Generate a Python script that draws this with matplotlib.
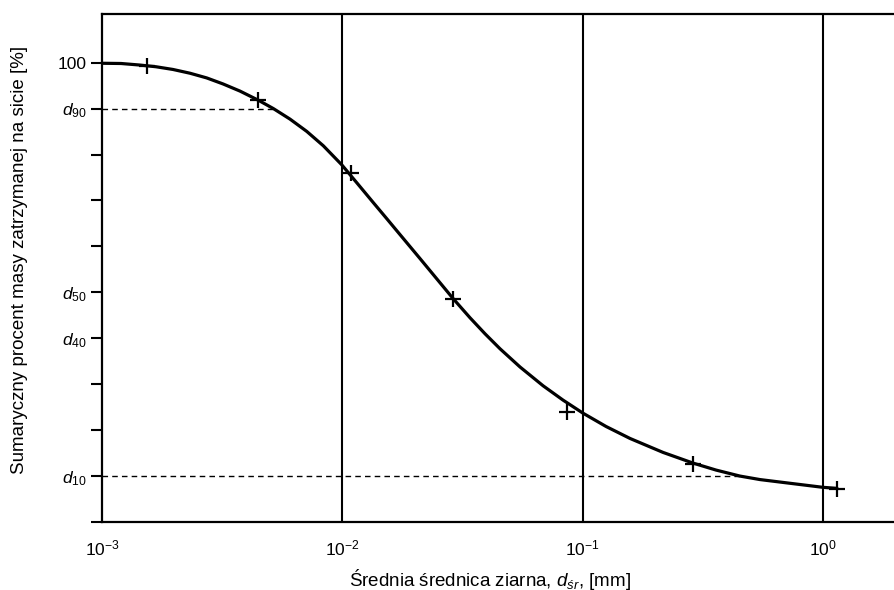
import matplotlib
matplotlib.use("Agg")
import matplotlib.pyplot as plt

plt.rcParams['font.family'] = ['Liberation Sans', 'DejaVu Sans']
plt.rcParams['mathtext.fontset'] = 'custom'
plt.rcParams['mathtext.rm'] = 'Liberation Sans'
plt.rcParams['mathtext.it'] = 'Liberation Sans:italic'

# measured points (sieve results)
point_x = [0.001545, 0.00447, 0.01089, 0.02877, 0.0859, 0.289, 1.148]
point_y = [99.3, 91.9, 75.9, 48.6, 24.0, 12.6, 7.2]

# smoothed grading curve
curve_x = [0.001, 0.0012, 0.001439, 0.001678, 0.001974, 0.002324, 0.002727,
           0.003188, 0.003752, 0.00447, 0.005163, 0.006058, 0.00711, 0.008337,
           0.009943, 0.01148, 0.01346, 0.01535, 0.01705, 0.02105, 0.02888,
           0.034, 0.03925, 0.04531, 0.05489, 0.06843, 0.08288, 0.10038,
           0.12515, 0.15749, 0.21615, 0.28798, 0.359, 0.45185, 0.5473, 0.66326,
           1.001, 1.1446]
curve_y = [99.87, 99.82, 99.48, 99.11, 98.52, 97.7, 96.68,
           95.37, 93.81, 91.83, 90.01, 87.71, 85.04, 81.9,
           77.77, 73.87, 69.52, 65.96, 63.09, 57.35, 48.66,
           44.45, 40.97, 37.71, 33.74, 29.66, 26.53, 23.68,
           20.79, 18.18, 15.14, 12.82, 11.3, 9.99, 9.23, 8.69,
           7.54, 7.32]

# characteristic diameters marked with dashed lines
d90 = 0.00515
d10 = 0.452

y_ticks = [0, 10, 20, 30, 40, 50, 60, 70, 80, 90, 100]
y_labels = ['', '$d_{10}$', '', '', '$d_{40}$', '$d_{50}$', '', '', '', '$d_{90}$', '100']
x_ticks = [1e-3, 1e-2, 1e-1, 1e0]
x_labels = ['10$^{-3}$', '10$^{-2}$', '10$^{-1}$', '10$^{0}$']

fig = plt.figure(figsize=(8.94, 5.9), dpi=100)
ax = fig.add_axes([0.1141, 0.1153, 0.8859, 0.861])

ax.set_xscale('log')
ax.set_xlim(1e-3, 1.975)
ax.set_ylim(0, 110.6)

# vertical decade lines
for xv in x_ticks[1:]:
    ax.axvline(xv, color='black', linewidth=1.5, zorder=1)

ax.plot([1e-3, d90], [90, 90], color='black', linewidth=1.0, linestyle=(0, (4, 3)))
ax.plot([1e-3, d10], [10, 10], color='black', linewidth=1.0, linestyle=(0, (4, 3)))

ax.plot(curve_x, curve_y, color='black', linewidth=2.3, zorder=3,
        solid_joinstyle='round', solid_capstyle='round')
ax.plot(point_x, point_y, linestyle='none', marker='+', markersize=12,
        markeredgewidth=1.6, color='black', zorder=4)

ax.set_xticks(x_ticks)
ax.set_xticklabels(x_labels, fontsize=12.5)
ax.minorticks_off()
ax.tick_params(axis='x', length=0, pad=12)
ax.set_yticks(y_ticks)
ax.set_yticklabels(y_labels, fontsize=12.5)
ax.tick_params(axis='y', length=8, width=1.5, pad=3)

for side in ['left', 'bottom', 'top']:
    ax.spines[side].set_linewidth(1.6)
ax.spines['right'].set_visible(False)

ax.set_xlabel('Średnia średnica ziarna, $d_{śr}$, [mm]', fontsize=13.5)
ax.xaxis.set_label_coords(0.49, -0.088)
ax.set_ylabel('Sumaryczny procent masy zatrzymanej na sicie [%]', fontsize=13.5)
ax.yaxis.set_label_coords(-0.093, 0.515)

fig.savefig('out.png', dpi=100)
